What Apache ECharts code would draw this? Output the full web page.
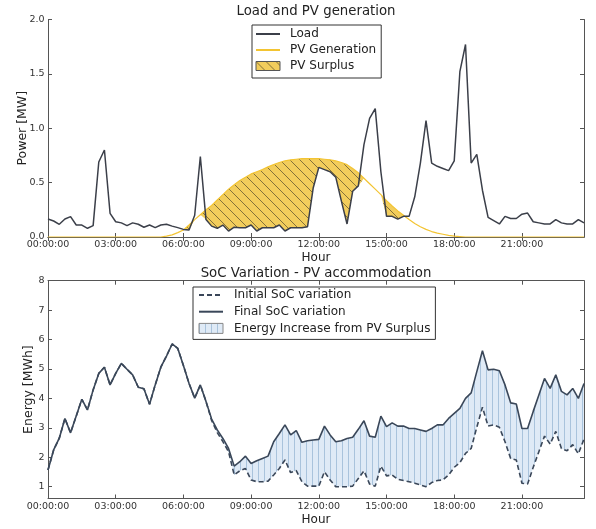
<!DOCTYPE html>
<html>
<head>
<meta charset="utf-8">
<script src="https://cdn.jsdelivr.net/npm/echarts@6/dist/echarts.min.js"></script>
<style>html,body{margin:0;padding:0;background:#fff}#c{width:596px;height:529px}</style>
</head>
<body>
<div id="c"></div>
<script>
// ---- data (15-minute resolution, 96 samples) ----
const hourTickLabels = ['00:00:00','03:00:00','06:00:00','09:00:00','12:00:00','15:00:00','18:00:00','21:00:00'];

const load = [
  0.165,0.147,0.117,0.165,0.187,0.11,0.11,0.08,0.104,0.69,0.80,0.218,
  0.14,0.13,0.104,0.13,0.117,0.09,0.11,0.086,0.11,0.117,0.10,0.086,
  0.07,0.064,0.20,0.74,0.16,0.10,0.08,0.11,0.055,0.09,0.085,0.085,
  0.11,0.055,0.085,0.085,0.085,0.11,0.055,0.085,0.085,0.085,0.095,0.45,
  0.64,0.62,0.60,0.55,0.33,0.12,0.42,0.47,0.85,1.09,1.18,0.60,
  0.19,0.19,0.165,0.19,0.19,0.37,0.68,1.07,0.68,0.65,0.63,0.61,
  0.70,1.52,1.77,0.68,0.76,0.43,0.18,0.15,0.12,0.19,0.17,0.17,
  0.21,0.22,0.14,0.13,0.12,0.12,0.16,0.13,0.12,0.12,0.16,0.13
];

const pvGeneration = [
  0,0,0,0,0,0,0,0,0,0,0,0,
  0,0,0,0,0,0,0,0,0,0.008,0.02,0.04,
  0.065,0.11,0.16,0.205,0.25,0.29,0.34,0.39,0.44,0.48,0.52,0.55,
  0.58,0.60,0.62,0.645,0.665,0.685,0.70,0.71,0.715,0.72,0.72,0.72,
  0.72,0.715,0.71,0.70,0.685,0.665,0.63,0.59,0.54,0.49,0.44,0.39,
  0.335,0.285,0.24,0.20,0.16,0.125,0.095,0.07,0.05,0.035,0.025,0.015,
  0.008,0.004,0,0,0,0,0,0,0,0,0,0,
  0,0,0,0,0,0,0,0,0,0,0,0
];

const initialSoC = [
  1.57,2.25,2.65,3.32,2.83,3.40,3.97,3.61,4.29,4.85,5.06,4.46,
  4.85,5.19,4.99,4.80,4.38,4.33,3.80,4.46,5.06,5.44,5.85,5.70,
  5.12,4.51,4.01,4.46,3.90,3.25,2.84,2.53,2.19,1.40,1.54,1.62,
  1.23,1.17,1.17,1.19,1.40,1.62,1.91,1.48,1.55,1.17,1.02,1.02,
  1.02,1.51,1.23,1.00,1.00,1.00,1.02,1.28,1.54,1.09,1.02,1.70,
  1.37,1.40,1.25,1.21,1.17,1.12,1.06,1.00,1.14,1.21,1.23,1.40,
  1.66,1.82,2.13,2.30,3.02,3.70,3.06,3.10,3.02,2.53,1.96,1.91,
  1.12,1.09,1.66,2.19,2.72,2.45,2.88,2.30,2.22,2.43,2.12,2.62
];

const finalSoC = [
  1.57,2.25,2.65,3.32,2.83,3.40,3.97,3.61,4.29,4.85,5.06,4.46,
  4.85,5.19,4.99,4.80,4.38,4.33,3.80,4.46,5.06,5.44,5.85,5.70,
  5.12,4.51,4.01,4.46,3.90,3.30,2.93,2.64,2.30,1.70,1.85,2.04,
  1.79,1.88,1.96,2.04,2.53,2.81,3.10,2.76,2.91,2.51,2.56,2.59,
  2.61,3.06,2.76,2.53,2.56,2.64,2.68,2.95,3.24,2.72,2.68,3.40,
  3.04,3.17,3.06,3.06,2.98,2.98,2.93,2.88,2.98,3.10,3.10,3.32,
  3.49,3.66,4.00,4.19,4.91,5.62,4.97,4.99,4.94,4.46,3.85,3.81,
  2.98,2.98,3.56,4.12,4.68,4.34,4.80,4.24,4.12,4.34,4.00,4.51
];

// categories: time of day for each sample
const pad = n => (n < 10 ? '0' : '') + n;
const times = load.map((_, i) => pad(Math.floor(i / 4)) + ':' + pad((i % 4) * 15) + ':00');

// derived series for the filled regions
const surplusBase = load.map((v, i) => Math.min(v, pvGeneration[i]));
const surplus = load.map((v, i) => Math.max(pvGeneration[i] - v, 0));
const energyIncrease = finalSoC.map((v, i) => +(v - initialSoC[i]).toFixed(3));

// ---- hatch patterns ----
function hatchYellow() {
  const s = 10, c = document.createElement('canvas');
  c.width = s; c.height = s;
  const g = c.getContext('2d');
  g.fillStyle = '#f2cd5c'; g.fillRect(0, 0, s, s);
  g.strokeStyle = 'rgba(95,82,45,0.75)'; g.lineWidth = 1;
  g.beginPath();
  g.moveTo(-2, -2); g.lineTo(s + 2, s + 2);
  g.moveTo(-2, s - 2); g.lineTo(2, s + 2);
  g.moveTo(s - 2, -2); g.lineTo(s + 2, 2);
  g.stroke();
  return { image: c, repeat: 'repeat' };
}
function hatchBlue() {
  const c = document.createElement('canvas');
  c.width = 6; c.height = 6;
  const g = c.getContext('2d');
  g.fillStyle = '#dfeaf6'; g.fillRect(0, 0, 6, 6);
  g.fillStyle = '#a9c3dc'; g.fillRect(0, 0, 1, 6);
  return { image: c, repeat: 'repeat' };
}
const yellowPat = hatchYellow();
const bluePat = hatchBlue();

const FONT = 'DejaVu Sans';
const AX = '#555';
const TXT = '#333';
const LOADC = '#3b3f49';
const SOCC = '#3a4759';
const PVC = '#f3c432';

function baseX(grid, top) {
  return {
    gridIndex: grid, type: 'category', data: times, boundaryGap: false,
    position: top ? 'top' : 'bottom',
    axisLine: { show: true, lineStyle: { color: AX, width: 1 } },
    axisTick: { show: true, inside: true, interval: 11, length: 4, lineStyle: { color: AX } },
    axisLabel: {
      show: !top, interval: 11, margin: 3, fontSize: 9.5, color: TXT, fontFamily: FONT
    },
    splitLine: { show: false },
    name: top ? '' : 'Hour', nameLocation: 'middle', nameGap: 15, nameMoveOverlap: false,
    nameTextStyle: { fontSize: 12, color: '#222', fontFamily: FONT }
  };
}

const option = {
  animation: false,
  backgroundColor: '#fff',
  textStyle: { fontFamily: FONT },
  title: [
    { text: 'Load and PV generation', left: 316, textAlign: 'center', top: 5, padding: 0,
      textStyle: { fontSize: 13.3, fontWeight: 'normal', color: '#222', fontFamily: FONT } },
    { text: 'SoC Variation - PV accommodation', left: 316, textAlign: 'center', top: 267, padding: 0,
      textStyle: { fontSize: 13.3, fontWeight: 'normal', color: '#222', fontFamily: FONT } }
  ],
  grid: [
    { left: 48, right: 12, top: 19.5, height: 217.5 },
    { left: 48, right: 12, top: 280.7, height: 217.8 }
  ],
  legend: [
    {
      orient: 'vertical', left: 252, top: 25, padding: [3, 5, 6, 3], itemGap: 4,
      itemWidth: 24, itemHeight: 9,
      borderColor: '#333', borderWidth: 1, backgroundColor: '#fff',
      textStyle: { fontSize: 12, color: '#222', fontFamily: FONT, padding: [0, 0, 0, 5] },
      data: [
        { name: 'Load', itemStyle: { opacity: 0 } },
        { name: 'PV Generation', itemStyle: { opacity: 0 } },
        { name: 'PV Surplus', icon: 'rect', itemStyle: { color: yellowPat, borderColor: '#555', borderWidth: 1, opacity: 1 } }
      ]
    },
    {
      orient: 'vertical', left: 193, top: 287, padding: [2, 5, 5, 5], itemGap: 4.7,
      itemWidth: 24, itemHeight: 10,
      borderColor: '#333', borderWidth: 1, backgroundColor: '#fff',
      textStyle: { fontSize: 12, color: '#222', fontFamily: FONT, padding: [0, 0, 0, 6] },
      data: [
        { name: 'Initial SoC variation', itemStyle: { opacity: 0 } },
        { name: 'Final SoC variation', itemStyle: { opacity: 0 } },
        { name: 'Energy Increase from PV Surplus', icon: 'rect', itemStyle: { color: bluePat, borderColor: '#888', borderWidth: 1, opacity: 1 } }
      ]
    }
  ],
  xAxis: [baseX(0, false), baseX(0, true), baseX(1, false), baseX(1, true)],
  yAxis: [
    {
      gridIndex: 0, type: 'value', min: 0, max: 2, interval: 0.5, position: 'left',
      axisLine: { show: true, lineStyle: { color: AX } },
      axisTick: { show: true, inside: true, length: 4, lineStyle: { color: AX } },
      axisLabel: { margin: 3.5, fontSize: 9.5, color: TXT, fontFamily: FONT, formatter: v => v.toFixed(1) },
      splitLine: { show: false },
      name: 'Power [MW]', nameLocation: 'middle', nameGap: 19, nameMoveOverlap: false,
      nameTextStyle: { fontSize: 12.5, color: '#222', fontFamily: FONT }
    },
    {
      gridIndex: 0, type: 'value', min: 0, max: 2, interval: 0.5, position: 'right',
      axisLine: { show: true, lineStyle: { color: AX } },
      axisTick: { show: true, inside: true, length: 4, lineStyle: { color: AX } },
      axisLabel: { show: false }, splitLine: { show: false }
    },
    {
      gridIndex: 1, type: 'value', min: 0.6, max: 8, position: 'left',
      axisLine: { show: true, lineStyle: { color: AX } },
      axisTick: { show: true, inside: true, length: 4, lineStyle: { color: AX }, customValues: [1,2,3,4,5,6,7,8] },
      axisLabel: { margin: 3.5, fontSize: 9.5, color: TXT, fontFamily: FONT, customValues: [1,2,3,4,5,6,7,8] },
      splitLine: { show: false },
      name: 'Energy [MWh]', nameLocation: 'middle', nameGap: 13, nameMoveOverlap: false,
      nameTextStyle: { fontSize: 12.5, color: '#222', fontFamily: FONT }
    },
    {
      gridIndex: 1, type: 'value', min: 0.6, max: 8, position: 'right',
      axisLine: { show: true, lineStyle: { color: AX } },
      axisTick: { show: true, inside: true, length: 4, lineStyle: { color: AX }, customValues: [1,2,3,4,5,6,7,8] },
      axisLabel: { show: false }, splitLine: { show: false }
    }
  ],
  series: [
    { name: 'surplusBase', type: 'line', xAxisIndex: 0, yAxisIndex: 0, data: surplusBase,
      stack: 'sp', symbol: 'none', silent: true, lineStyle: { width: 0, opacity: 0 }, z: 2 },
    { name: 'PV Surplus', type: 'line', xAxisIndex: 0, yAxisIndex: 0, data: surplus,
      stack: 'sp', symbol: 'none', silent: true, lineStyle: { width: 0, opacity: 0 },
      itemStyle: { color: '#f2cd5c' },
      areaStyle: { color: yellowPat, opacity: 1 }, z: 2 },
    { name: 'PV Generation', type: 'line', xAxisIndex: 0, yAxisIndex: 0, data: pvGeneration,
      symbol: 'none', lineStyle: { color: PVC, width: 1.2 }, itemStyle: { color: PVC }, z: 4 },
    { name: 'Load', type: 'line', xAxisIndex: 0, yAxisIndex: 0, data: load,
      symbol: 'none', lineStyle: { color: LOADC, width: 1.5 }, itemStyle: { color: LOADC }, z: 5 },

    { name: 'socBase', type: 'line', xAxisIndex: 2, yAxisIndex: 2, data: initialSoC,
      stack: 'soc', symbol: 'none', silent: true, lineStyle: { width: 0, opacity: 0 }, z: 2 },
    { name: 'Energy Increase from PV Surplus', type: 'line', xAxisIndex: 2, yAxisIndex: 2, data: energyIncrease,
      stack: 'soc', symbol: 'none', silent: true, lineStyle: { width: 0, opacity: 0 },
      itemStyle: { color: '#dfeaf6' },
      areaStyle: { color: bluePat, opacity: 1 }, z: 2 },
    { name: 'Initial SoC variation', type: 'line', xAxisIndex: 2, yAxisIndex: 2, data: initialSoC,
      symbol: 'none', lineStyle: { color: SOCC, width: 1.6, type: [5, 3] }, itemStyle: { color: SOCC }, z: 5 },
    { name: 'Final SoC variation', type: 'line', xAxisIndex: 2, yAxisIndex: 2, data: finalSoC,
      symbol: 'none', lineStyle: { color: SOCC, width: 1.6 }, itemStyle: { color: SOCC }, z: 6 }
  ]
};

const chart = echarts.init(document.getElementById('c'), null, { renderer: 'canvas' });
chart.setOption(option);
</script>
</body>
</html>
